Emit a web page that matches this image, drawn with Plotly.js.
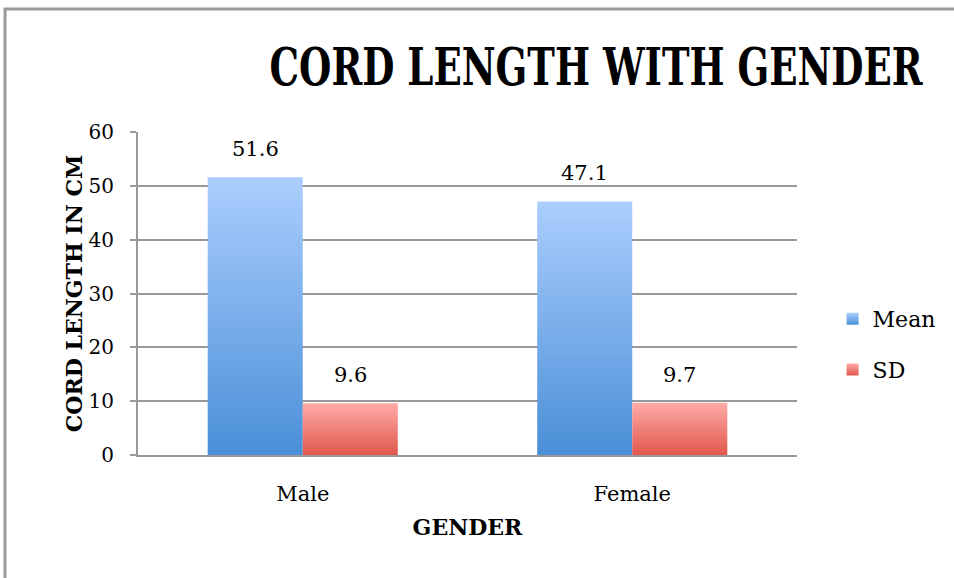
<!DOCTYPE html>
<html>
<head>
<meta charset="utf-8">
<script src="https://cdn.plot.ly/plotly-3.0.1.min.js"></script>
<style>
  html, body { margin: 0; padding: 0; background: #fff; }
  #chart { width: 954px; height: 578px; }
</style>
</head>
<body>
<div id="chart"></div>
<script>
// ---- data ----
const categories = ['Male', 'Female'];
const meanValues = [51.6, 47.1];
const sdValues = [9.6, 9.7];
const seriesNames = ['Mean', 'SD'];
const yTickValues = [0, 10, 20, 30, 40, 50, 60];

const serif = 'DejaVu Serif, Liberation Serif, serif';
const gridGrey = '#999999';

const traces = [
  {
    type: 'bar', name: seriesNames[0], x: categories, y: meanValues,
    marker: { color: '#7aacea', line: { width: 0 } },
    legendgroup: 'a', hoverinfo: 'x+y'
  },
  {
    type: 'bar', name: seriesNames[1], x: categories, y: sdValues,
    marker: { color: '#f08a84', line: { width: 0 } },
    legendgroup: 'b', hoverinfo: 'x+y'
  }
];

// value labels above bars
const annotations = [];
[meanValues, sdValues].forEach((vals, s) => {
  vals.forEach((v, i) => {
    annotations.push({
      x: categories[i], y: v, xref: 'x', yref: 'y',
      text: v.toFixed(1), showarrow: false,
      xshift: s === 0 ? -47.5 : 47.5, yshift: 28, yanchor: 'middle',
      font: { family: serif, size: 21, color: '#000' }
    });
  });
});

const layout = {
  width: 954, height: 578,
  margin: { l: 138, r: 157, t: 132, b: 123 },
  paper_bgcolor: '#ffffff', plot_bgcolor: '#ffffff',
  barmode: 'group', bargap: 0.423, bargroupgap: 0,
  title: {
    text: 'CORD LENGTH WITH GENDER',
    font: { family: serif, size: 52, color: '#000', weight: 'bold' },
    xref: 'container', x: 596 / 954, xanchor: 'center',
    yref: 'container', y: 1 - 67 / 578, yanchor: 'middle'
  },
  xaxis: {
    type: 'category',
    showline: true, linecolor: gridGrey, linewidth: 2,
    ticks: '', ticklabelstandoff: 19,
    tickfont: { family: serif, size: 21, color: '#000' },
    title: { text: '<b>GENDER</b>', font: { family: serif, size: 22, color: '#000' }, standoff: 14 },
    automargin: false
  },
  yaxis: {
    range: [0, 60], tickvals: yTickValues, ticktext: yTickValues.map(String),
    showgrid: true, gridcolor: gridGrey, gridwidth: 2,
    showline: true, linecolor: gridGrey, linewidth: 2,
    ticks: 'outside', ticklen: 6, tickcolor: gridGrey, tickwidth: 2,
    ticklabelstandoff: 12,
    tickfont: { family: serif, size: 20, color: '#000' },
    zeroline: false,
    title: { text: '<b>CORD LENGTH IN CM</b>', font: { family: serif, size: 22, color: '#000' } },
    automargin: false, fixedrange: true
  },
  legend: {
    x: 1.054, xanchor: 'left', y: 0.486, yanchor: 'top',
    font: { family: serif, size: 22, color: '#000' },
    traceorder: 'grouped', tracegroupgap: 19,
    bgcolor: 'rgba(0,0,0,0)'
  },
  showlegend: true,
  annotations: annotations,
  shapes: [{
    type: 'path', xref: 'paper', yref: 'paper',
    path: 'M -0.2018 -0.5 L -0.2018 1.381 L 2 1.381',
    line: { color: '#9a9a9a', width: 3 }
  }]
};

Plotly.newPlot('chart', traces, layout, { displayModeBar: false, staticPlot: true }).then(gd => {
  const svg = gd.querySelector('svg.main-svg');
  const ns = 'http://www.w3.org/2000/svg';
  const defs = document.createElementNS(ns, 'defs');
  const grads = [
    { id: 'gMean', top: '#abcefe', bot: '#4a8fd7' },
    { id: 'gSD', top: '#ffaba7', bot: '#e0574c' }
  ];
  grads.forEach(g => {
    const lg = document.createElementNS(ns, 'linearGradient');
    lg.setAttribute('id', g.id);
    lg.setAttribute('x1', '0'); lg.setAttribute('y1', '0');
    lg.setAttribute('x2', '0'); lg.setAttribute('y2', '1');
    [[0, g.top], [1, g.bot]].forEach(([o, c]) => {
      const st = document.createElementNS(ns, 'stop');
      st.setAttribute('offset', o); st.setAttribute('stop-color', c);
      lg.appendChild(st);
    });
    defs.appendChild(lg);
  });
  svg.insertBefore(defs, svg.firstChild);
  gd.querySelectorAll('.barlayer .trace').forEach((t, i) => {
    t.querySelectorAll('path').forEach(p => { p.style.fill = 'url(#' + grads[i].id + ')'; });
  });
  gd.querySelectorAll('.legend .traces').forEach((t, i) => {
    t.querySelectorAll('.legendpoints path').forEach(p => { p.style.fill = 'url(#' + grads[i].id + ')'; });
  });
  // condense the title horizontally to match the narrow heading face
  const title = gd.querySelector('.gtitle');
  if (title) {
    const bb = title.getBBox();
    const targetW = 654;
    const s = targetW / bb.width;
    const cx = bb.x + bb.width / 2;
    title.setAttribute('transform', 'translate(' + cx + ',0) scale(' + s + ',1) translate(' + (-cx) + ',0)');
  }
});
</script>
</body>
</html>
